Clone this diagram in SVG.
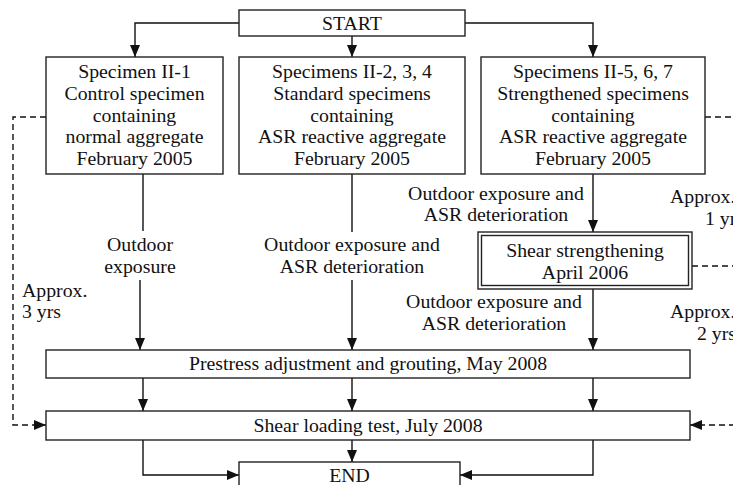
<svg xmlns="http://www.w3.org/2000/svg" width="733" height="485" viewBox="0 0 733 485">
<style>
text{font-family:"Liberation Serif","Times New Roman",serif;font-size:19.8px;fill:#111;text-anchor:middle}
.s{text-anchor:start}
.box{fill:#fff;stroke:#222;stroke-width:1.4}
.ln{fill:none;stroke:#111;stroke-width:1.4}
.ds{fill:none;stroke:#111;stroke-width:1.4;stroke-dasharray:6,4}
</style>
<defs>
<marker id="ah" markerUnits="userSpaceOnUse" markerWidth="12" markerHeight="10" viewBox="0 0 12 10" refX="12" refY="5" orient="auto">
<path d="M0,0 L12,5 L0,10 z" fill="#111"/>
</marker>
</defs>
<rect width="733" height="485" fill="#fff"/>
<g id="connectors">
<path class="ln" d="M239,23 H135 V57" marker-end="url(#ah)"/>
<path class="ln" d="M352,36 V57" marker-end="url(#ah)"/>
<path class="ln" d="M465,23 H593 V57" marker-end="url(#ah)"/>
<path class="ln" d="M143,174 V231"/>
<path class="ln" d="M140,280 V350" marker-end="url(#ah)"/>
<path class="ln" d="M352,174 V232"/>
<path class="ln" d="M352,280 V350" marker-end="url(#ah)"/>
<path class="ln" d="M593,174 V232" marker-end="url(#ah)"/>
<path class="ln" d="M593,289 V350" marker-end="url(#ah)"/>
<path class="ln" d="M143,378 V411" marker-end="url(#ah)"/>
<path class="ln" d="M352,378 V411" marker-end="url(#ah)"/>
<path class="ln" d="M593,378 V411" marker-end="url(#ah)"/>
<path class="ln" d="M143,440 V475 H239" marker-end="url(#ah)"/>
<path class="ln" d="M352,440 V462" marker-end="url(#ah)"/>
<path class="ln" d="M593,440 V475 H460" marker-end="url(#ah)"/>
<path class="ds" d="M46,117 H13 V425 H46" marker-end="url(#ah)"/>
<path class="ds" d="M705,117 H735"/>
<path class="ds" d="M692,266 H735"/>
<path class="ds" d="M735,425 H690" marker-end="url(#ah)"/>
<text x="140" y="251">Outdoor</text>
<text x="140" y="273">exposure</text>
<text x="352" y="251">Outdoor exposure and</text>
<text x="352" y="273">ASR deterioration</text>
<text x="496" y="200">Outdoor exposure and</text>
<text x="496" y="221">ASR deterioration</text>
<text x="494" y="308">Outdoor exposure and</text>
<text x="494" y="330">ASR deterioration</text>
<text class="s" x="22" y="297">Approx.</text>
<text class="s" x="22" y="318">3 yrs</text>
<text class="s" x="670" y="203">Approx.</text>
<text class="s" x="705" y="225">1 yr</text>
<text class="s" x="670" y="318">Approx.</text>
<text class="s" x="697" y="340">2 yrs</text>
</g>
<g id="start">
<rect class="box" x="239" y="10" width="226" height="26"/>
<text x="352" y="30">START</text>
</g>
<g id="spec1">
<rect class="box" x="46" y="57" width="177" height="117"/>
<text x="134.5" y="78">Specimen II-1</text>
<text x="134.5" y="100">Control specimen</text>
<text x="134.5" y="122">containing</text>
<text x="134.5" y="143">normal aggregate</text>
<text x="134.5" y="165">February 2005</text>
</g>
<g id="spec2">
<rect class="box" x="239" y="57" width="226" height="117"/>
<text x="352" y="78">Specimens II-2, 3, 4</text>
<text x="352" y="100">Standard specimens</text>
<text x="352" y="122">containing</text>
<text x="352" y="143">ASR reactive aggregate</text>
<text x="352" y="165">February 2005</text>
</g>
<g id="spec3">
<rect class="box" x="481" y="57" width="224" height="117"/>
<text x="593" y="78">Specimens II-5, 6, 7</text>
<text x="593" y="100">Strengthened specimens</text>
<text x="593" y="122">containing</text>
<text x="593" y="143">ASR reactive aggregate</text>
<text x="593" y="165">February 2005</text>
</g>
<g id="strengthening">
<rect class="box" x="478" y="232" width="214" height="57"/>
<rect class="box" x="481.5" y="235.5" width="207" height="50" stroke-width="1.1"/>
<text x="585" y="257">Shear strengthening</text>
<text x="585" y="279">April 2006</text>
</g>
<g id="prestress">
<rect class="box" x="46" y="350" width="644" height="28"/>
<text x="368" y="370">Prestress adjustment and grouting, May 2008</text>
</g>
<g id="test">
<rect class="box" x="46" y="411" width="644" height="29"/>
<text x="368" y="432">Shear loading test, July 2008</text>
</g>
<g id="end">
<rect class="box" x="239" y="462" width="221" height="28"/>
<text x="349.5" y="482">END</text>
</g>
</svg>
